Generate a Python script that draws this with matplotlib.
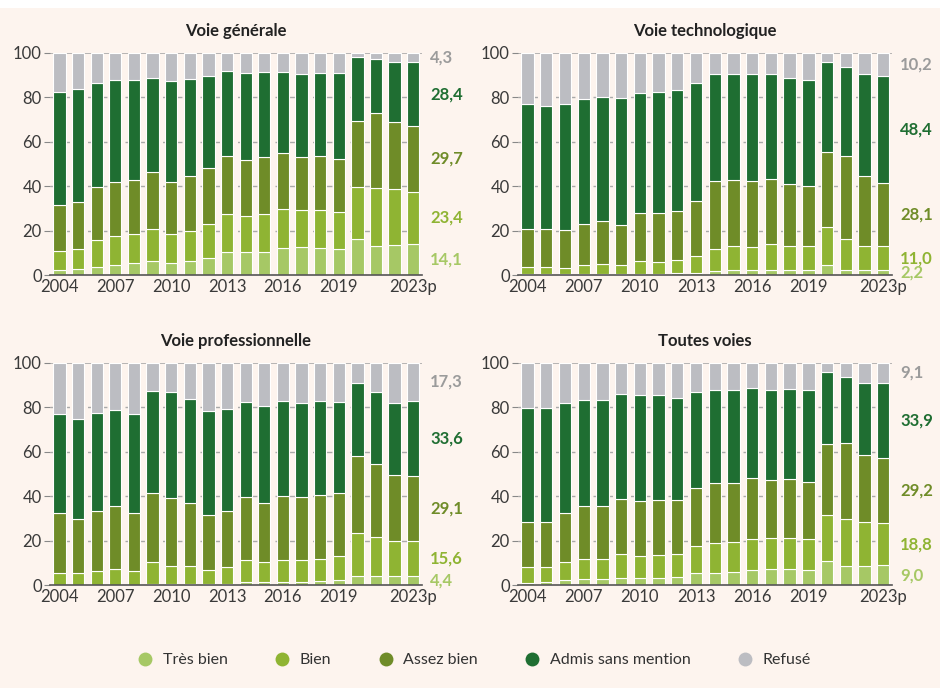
import numpy as np
import matplotlib
matplotlib.use("Agg")
import matplotlib.pyplot as plt
from matplotlib.patches import Rectangle
from matplotlib.lines import Line2D
from matplotlib.transforms import blended_transform_factory, offset_copy

plt.rcParams['font.family'] = ['Lato', 'DejaVu Sans']

years = list(range(2004, 2024))
tick_years = [2004, 2007, 2010, 2013, 2016, 2019, 2023]
tick_labels = ['2004', '2007', '2010', '2013', '2016', '2019', '2023p']

categories = ['Très bien', 'Bien', 'Assez bien', 'Admis sans mention', 'Refusé']
colors = ['#a6c865', '#8fb433', '#6f8c28', '#1f6e32', '#bcbdc2']
label_colors = ['#a6c865', '#8fb433', '#6f8c28', '#1f6e32', '#9b9b9b']

# Voie générale
gen_tb = [2.4, 2.7, 3.9, 4.8, 5.4, 6.3, 5.7, 6.3, 7.6, 10.3, 10.3, 10.5, 12.4, 12.6, 12.4, 11.7, 16.5, 13.3, 13.8, 14.1]
gen_b = [8.6, 9.0, 11.8, 12.7, 13.0, 14.4, 12.9, 13.8, 15.3, 17.1, 16.3, 17.2, 17.5, 16.9, 17.1, 16.6, 23.2, 26.1, 24.8, 23.4]
gen_ab = [20.7, 21.1, 24.1, 24.5, 24.3, 25.6, 23.4, 24.4, 25.5, 26.3, 25.3, 25.6, 25.2, 23.8, 24.2, 23.9, 29.8, 33.7, 30.3, 29.7]
gen_adm = [50.6, 51.0, 46.7, 45.6, 45.2, 42.5, 45.1, 43.5, 41.1, 38.1, 38.8, 38.0, 36.2, 37.3, 37.2, 38.7, 28.7, 24.1, 26.9, 28.4]
gen_ref = [17.7, 16.2, 13.5, 12.4, 12.1, 11.2, 12.9, 12.0, 10.5, 8.2, 9.3, 8.7, 8.7, 9.4, 9.1, 9.1, 1.8, 2.8, 4.2, 4.3]

# Voie technologique
tec_tb = [0.6, 0.6, 0.5, 0.5, 0.4, 0.5, 0.7, 0.8, 1.0, 1.2, 1.8, 2.2, 2.2, 2.2, 2.2, 2.2, 4.5, 2.4, 2.2, 2.2]
tec_b = [3.3, 3.3, 2.9, 4.0, 4.5, 4.0, 5.7, 5.0, 5.7, 7.3, 10.0, 10.8, 10.4, 11.7, 10.8, 11.0, 17.1, 14.1, 11.1, 11.0]
tec_ab = [17.1, 17.1, 16.8, 18.4, 19.4, 18.3, 21.6, 22.0, 22.2, 25.0, 30.4, 30.0, 29.6, 29.5, 28.2, 26.9, 33.9, 37.2, 31.2, 28.1]
tec_adm = [55.8, 55.2, 56.9, 56.4, 55.9, 57.0, 53.7, 54.7, 54.3, 53.0, 48.4, 47.6, 48.4, 46.9, 47.6, 47.8, 40.2, 40.0, 45.9, 48.4]
tec_ref = [23.2, 23.8, 22.9, 20.7, 19.8, 20.2, 18.3, 17.5, 16.8, 13.5, 9.4, 9.4, 9.4, 9.7, 11.2, 12.1, 4.3, 6.3, 9.6, 10.2]

# Voie professionnelle
pro_tb = [0.3, 0.3, 0.3, 0.3, 0.3, 0.8, 0.8, 0.8, 0.5, 0.8, 1.3, 1.3, 1.4, 1.6, 2.0, 2.2, 4.3, 4.0, 4.0, 4.4]
pro_b = [5.1, 5.1, 6.1, 7.0, 6.0, 9.5, 8.0, 7.7, 6.4, 7.6, 9.9, 9.0, 10.1, 9.9, 10.0, 10.8, 19.4, 17.6, 15.8, 15.6]
pro_ab = [26.9, 24.5, 26.8, 28.2, 26.0, 31.0, 30.3, 28.6, 24.5, 25.1, 28.3, 26.8, 28.5, 28.0, 28.6, 28.5, 34.5, 32.7, 29.8, 29.1]
pro_adm = [44.5, 44.7, 44.0, 43.1, 44.6, 46.0, 47.6, 46.7, 47.0, 45.5, 42.7, 43.3, 42.6, 42.2, 42.3, 41.0, 32.5, 32.4, 32.5, 33.6]
pro_ref = [23.2, 25.4, 22.8, 21.4, 23.1, 12.7, 13.3, 16.2, 21.6, 21.0, 17.8, 19.6, 17.4, 18.3, 17.1, 17.5, 9.3, 13.3, 17.9, 17.3]

# Toutes voies
tou_tb = [1.0, 1.3, 2.2, 2.7, 3.0, 3.4, 3.4, 3.4, 3.9, 5.4, 5.5, 6.0, 7.0, 7.3, 7.3, 7.0, 10.8, 8.5, 8.8, 9.0]
tou_b = [7.1, 6.9, 8.3, 9.0, 9.0, 10.7, 9.9, 10.1, 10.3, 12.4, 13.4, 13.5, 14.0, 13.8, 14.1, 14.0, 20.6, 21.3, 19.5, 18.8]
tou_ab = [20.5, 20.4, 22.1, 23.8, 23.5, 24.8, 24.4, 24.8, 24.1, 25.8, 26.9, 26.6, 27.1, 26.2, 26.2, 25.6, 31.9, 34.3, 30.2, 29.2]
tou_adm = [50.9, 51.0, 49.4, 47.9, 47.9, 47.2, 47.9, 47.3, 46.0, 43.4, 41.9, 41.6, 40.4, 40.4, 40.4, 41.1, 32.5, 29.6, 32.5, 33.9]
tou_ref = [20.5, 20.4, 18.0, 16.6, 16.6, 13.9, 14.4, 14.4, 15.7, 13.0, 12.3, 12.3, 11.5, 12.3, 12.0, 12.3, 4.2, 6.3, 9.0, 9.1]

# Étiquettes de droite (valeurs 2023p)
gen_labels = ['14,1', '23,4', '29,7', '28,4', '4,3']
tec_labels = ['2,2', '11,0', '28,1', '48,4', '10,2']
pro_labels = ['4,4', '15,6', '29,1', '33,6', '17,3']
tou_labels = ['9,0', '18,8', '29,2', '33,9', '9,1']

panels = [
    ('Voie générale', [gen_tb, gen_b, gen_ab, gen_adm, gen_ref], gen_labels),
    ('Voie technologique', [tec_tb, tec_b, tec_ab, tec_adm, tec_ref], tec_labels),
    ('Voie professionnelle', [pro_tb, pro_b, pro_ab, pro_adm, pro_ref], pro_labels),
    ('Toutes voies', [tou_tb, tou_b, tou_ab, tou_adm, tou_ref], tou_labels),
]

bg = '#fdf4ee'
W, H = 940, 688
fig = plt.figure(figsize=(9.4, 6.88), dpi=100, facecolor='white')
fig.patches.append(Rectangle((0, 0), 1, 680 / H, transform=fig.transFigure,
                             facecolor=bg, edgecolor='none', zorder=-10))

# positions des axes en pixels : (gauche, haut_100, droite, bas_0)
boxes = [(50, 52.7, 422, 275.3), (518, 52.7, 892, 275.3),
         (50, 362.7, 422, 585.3), (518, 362.7, 892, 585.3)]

x = np.arange(len(years))
for (title, series, labels), (l, t, r, b) in zip(panels, boxes):
    ax = fig.add_axes([l / W, (H - b) / H, (r - l) / W, (b - t) / H])
    ax.set_facecolor('none')
    bottom = np.zeros(len(years))
    last_centers = []
    for vals, col in zip(series, colors):
        vals = np.array(vals)
        ax.bar(x, vals, bottom=bottom, width=0.66, color=col,
               edgecolor='white', linewidth=0.8, zorder=3)
        last_centers.append(bottom[-1] + vals[-1] / 2)
        bottom = bottom + vals
    ax.set_xlim(-0.51, 19.47)
    ax.set_ylim(0, 100)
    for yv in [20, 40, 60, 80]:
        ax.axhline(yv, color='#a9a9a9', lw=1, ls=(0, (5, 4)), zorder=1)
    ax.axhline(100, color='#a9a9a9', lw=1.2, zorder=1)
    for s in ['top', 'right', 'left']:
        ax.spines[s].set_visible(False)
    ax.spines['bottom'].set_color('#555555')
    ax.spines['bottom'].set_linewidth(1.2)
    ax.spines['bottom'].set_zorder(4)
    ax.set_yticks([0, 20, 40, 60, 80, 100])
    ax.set_xticks([years.index(yr) for yr in tick_years])
    ax.set_xticklabels(tick_labels)
    ax.tick_params(axis='y', length=4, color='#888888', labelsize=12,
                   labelcolor='#3a3a3a', pad=2)
    ax.tick_params(axis='x', length=0, labelsize=12, labelcolor='#3a3a3a', pad=3)
    ax.set_title(title, fontsize=12, fontweight='bold', color='#222222', pad=12)
    tr = offset_copy(blended_transform_factory(ax.transAxes, ax.transData),
                     fig=fig, x=6, y=0, units='points')
    for yc, lab, lc in zip(last_centers, labels, label_colors):
        ax.text(1.0, yc, lab, transform=tr, ha='left', va='center',
                fontsize=12, fontweight='bold', color=lc)

handles = [Line2D([], [], marker='o', ls='none', markersize=10,
                  markerfacecolor=c, markeredgecolor='none') for c in colors]
fig.legend(handles, categories, loc='center', bbox_to_anchor=(0.5, (H - 660) / H),
           ncol=5, frameon=False, fontsize=11.5, handletextpad=0.1,
           columnspacing=2.4, labelcolor='#333333')

fig.savefig('out.png', dpi=100, facecolor=fig.get_facecolor())
